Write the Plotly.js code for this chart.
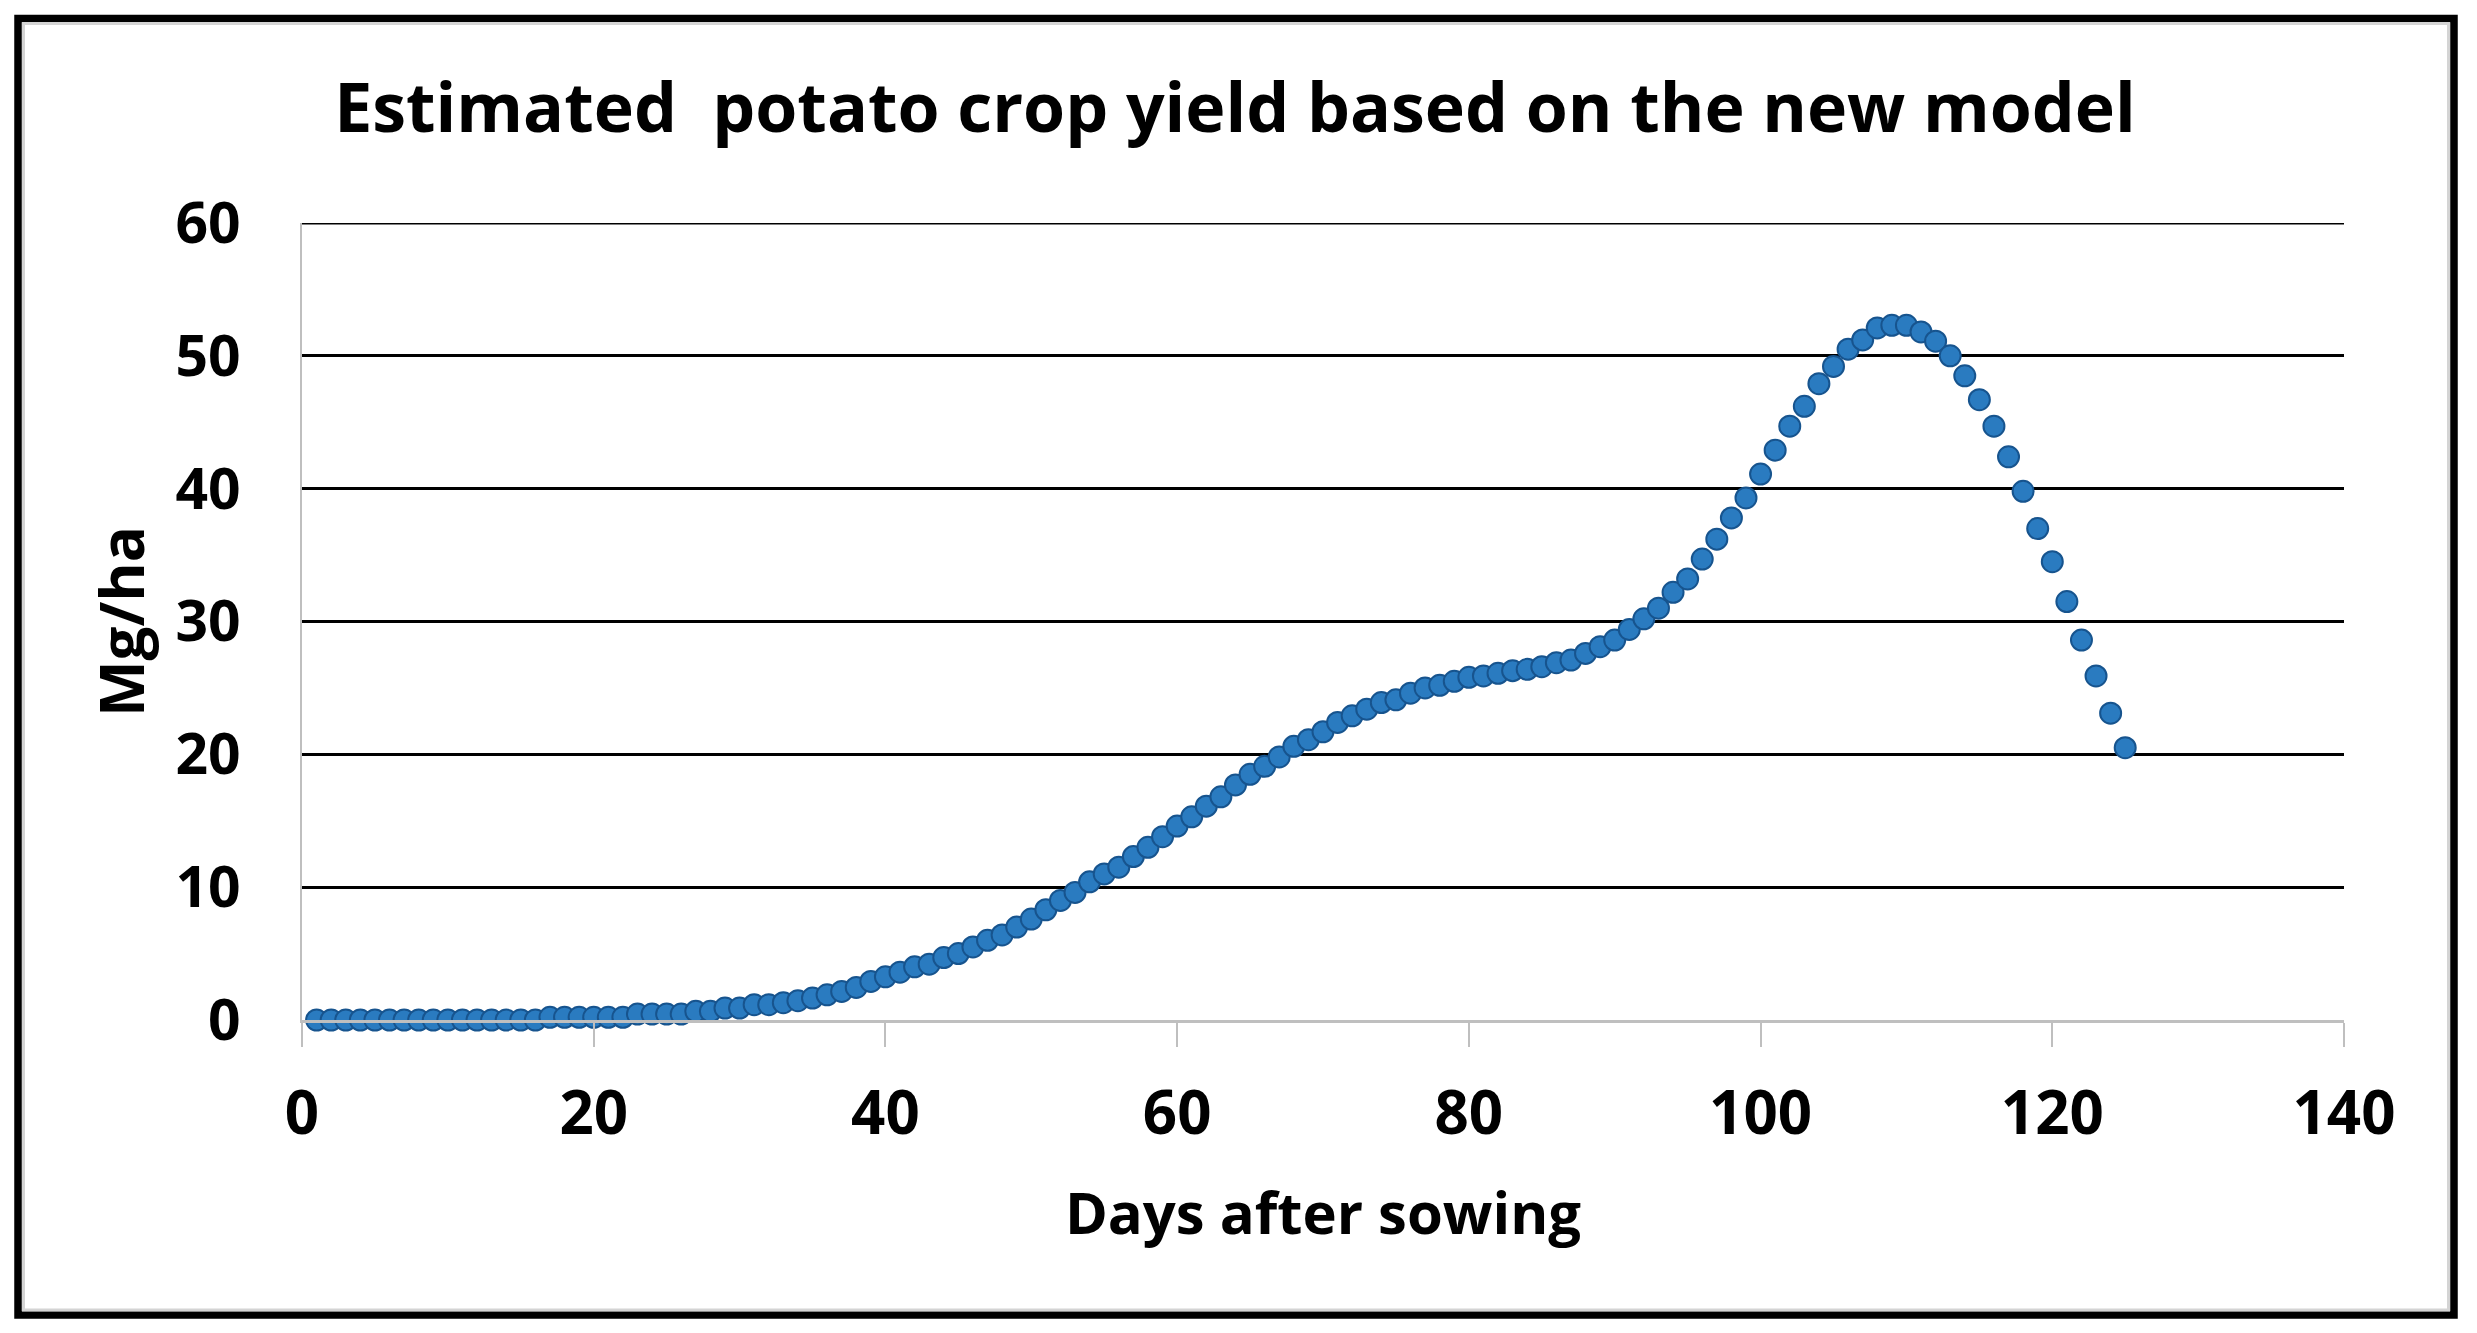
<!DOCTYPE html>
<html>
<head>
<meta charset="utf-8">
<script src="https://cdn.plot.ly/plotly-3.0.1.min.js"></script>
<style>
  html, body { margin: 0; padding: 0; background: #ffffff; }
  #chart { width: 2477px; height: 1333px; }
</style>
</head>
<body>
<div id="chart"></div>
<script>
// ---- data ----
const chartTitle = "Estimated \u00A0potato crop yield based on the new model";
const xAxisTitle = "Days after sowing";
const yAxisTitle = "Mg/ha";

const days = [
  1, 2, 3, 4, 5, 6, 7, 8, 9, 10,
  11, 12, 13, 14, 15, 16, 17, 18, 19, 20,
  21, 22, 23, 24, 25, 26, 27, 28, 29, 30,
  31, 32, 33, 34, 35, 36, 37, 38, 39, 40,
  41, 42, 43, 44, 45, 46, 47, 48, 49, 50,
  51, 52, 53, 54, 55, 56, 57, 58, 59, 60,
  61, 62, 63, 64, 65, 66, 67, 68, 69, 70,
  71, 72, 73, 74, 75, 76, 77, 78, 79, 80,
  81, 82, 83, 84, 85, 86, 87, 88, 89, 90,
  91, 92, 93, 94, 95, 96, 97, 98, 99, 100,
  101, 102, 103, 104, 105, 106, 107, 108, 109, 110,
  111, 112, 113, 114, 115, 116, 117, 118, 119, 120,
  121, 122, 123, 124, 125
];

const yieldMgHa = [
  0, 0, 0, 0, 0, 0, 0, 0, 0, 0,
  0, 0, 0, 0, 0, 0, 0.2, 0.2, 0.2, 0.2,
  0.2, 0.2, 0.45, 0.45, 0.45, 0.45, 0.65, 0.65, 0.9, 0.9,
  1.15, 1.15, 1.3, 1.45, 1.65, 1.9, 2.15, 2.45, 2.9, 3.25,
  3.6, 4.0, 4.2, 4.7, 5.0, 5.5, 6.0, 6.4, 7.0, 7.6,
  8.3, 9.0, 9.6, 10.4, 11.0, 11.5, 12.3, 13.0, 13.8, 14.6,
  15.3, 16.1, 16.8, 17.7, 18.5, 19.1, 19.8, 20.6, 21.1, 21.7,
  22.4, 22.9, 23.4, 23.9, 24.1, 24.6, 25.0, 25.2, 25.5, 25.8,
  25.9, 26.1, 26.3, 26.4, 26.6, 26.9, 27.1, 27.6, 28.1, 28.6,
  29.4, 30.2, 31.0, 32.2, 33.2, 34.7, 36.2, 37.8, 39.3, 41.1,
  42.9, 44.7, 46.2, 47.9, 49.2, 50.5, 51.2, 52.1, 52.3, 52.3,
  51.8, 51.1, 50.0, 48.5, 46.7, 44.7, 42.4, 39.8, 37.0, 34.5,
  31.5, 28.6, 25.9, 23.1, 20.5
];

const xTickVals = [0, 20, 40, 60, 80, 100, 120, 140];
const yTickVals = [0, 10, 20, 30, 40, 50, 60];

// ---- layout geometry ----
const W = 2477, H = 1333;
const M = { l: 302, r: W - 2344, t: 223, b: H - 1020 };
const plotW = W - M.l - M.r, plotH = H - M.t - M.b;
const px2x = p => (p - M.l) / plotW;
const px2y = p => (H - M.b - p) / plotH;

const FONT = "'Open Sans', 'Liberation Sans', sans-serif";
const yMax = yTickVals[yTickVals.length - 1];

const trace = {
  type: 'scatter',
  mode: 'markers',
  x: days,
  y: yieldMgHa,
  marker: {
    size: 21,
    color: '#2a7bc0',
    line: { color: '#17548e', width: 2 }
  },
  cliponaxis: false,
  hoverinfo: 'x+y'
};

const layout = {
  width: W,
  height: H,
  margin: M,
  paper_bgcolor: '#ffffff',
  plot_bgcolor: '#ffffff',
  showlegend: false,
  title: {
    text: chartTitle,
    font: { family: FONT, size: 68, color: '#000000', weight: 'bold' },
    xref: 'container', x: 1235 / W, xanchor: 'center',
    yref: 'container', y: 1 - 108 / H, yanchor: 'middle'
  },
  xaxis: {
    range: [0, 140],
    tickvals: xTickVals,
    ticktext: xTickVals.map(String),
    showgrid: false,
    zeroline: false,
    showline: true,
    linecolor: '#bfbfbf',
    linewidth: 3,
    ticks: 'outside',
    ticklen: 24,
    tickwidth: 2,
    tickcolor: '#bfbfbf',
    ticklabelstandoff: 15,
    tickfont: { family: FONT, size: 60, color: '#000000', weight: 'bold' },
    title: {
      text: xAxisTitle,
      font: { family: FONT, size: 58, color: '#000000', weight: 'bold' },
      standoff: 43
    },
    automargin: false
  },
  yaxis: {
    range: [0, yMax],
    tickvals: yTickVals,
    ticktext: yTickVals.map(String),
    showgrid: true,
    gridcolor: '#000000',
    gridwidth: 3,
    zeroline: false,
    showline: true,
    linecolor: '#bfbfbf',
    linewidth: 2,
    ticks: '',
    ticklabelstandoff: 48,
    tickfont: { family: FONT, size: 57, color: '#000000', weight: 'bold' },
    title: {
      text: yAxisTitle,
      font: { family: FONT, size: 60, color: '#000000', weight: 'bold' },
      standoff: 11
    },
    automargin: false
  },
  shapes: [
    // top gridline at the axis maximum (Plotly omits the gridline on the range edge)
    {
      type: 'line', xref: 'paper', yref: 'y', layer: 'below',
      x0: 0, x1: 1, y0: yMax, y1: yMax,
      line: { color: '#000000', width: 3 }
    },
    // outer black frame of the chart
    {
      type: 'rect', xref: 'paper', yref: 'paper', layer: 'above',
      x0: px2x(18), x1: px2x(2454), y0: px2y(18.5), y1: px2y(1315),
      line: { color: '#000000', width: 7.5 }, fillcolor: 'rgba(0,0,0,0)'
    },
    // thin light grey inner edge
    {
      type: 'rect', xref: 'paper', yref: 'paper', layer: 'above',
      x0: px2x(23.5), x1: px2x(2448.5), y0: px2y(23.5), y1: px2y(1310),
      line: { color: '#d4d4d4', width: 3 }, fillcolor: 'rgba(0,0,0,0)'
    }
  ]
};

Plotly.newPlot('chart', [trace], layout, { staticPlot: true, displayModeBar: false });
</script>
</body>
</html>
